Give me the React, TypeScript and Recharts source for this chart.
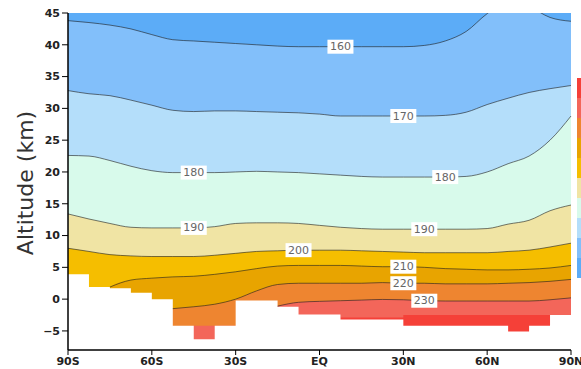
import React from "react";
import { ComposedChart, Area, Line, XAxis, YAxis, CartesianGrid } from "recharts";

// model latitude boxes (7.5 deg), south to north
const lats = [-90, -82.5, -75, -67.5, -60, -52.5, -45, -37.5, -30, -22.5, -15, -7.5, 0, 7.5, 15, 22.5, 30, 37.5, 45, 52.5, 60, 67.5, 75, 82.5, 90];

// altitude (km) of each temperature contour (K); null = under the ground
const k160 = [43.8, 43.5, 43.1, 42.5, 41.6, 40.8, 40.6, 40.4, 40.2, 40.0, 39.8, 39.7, 39.7, 39.7, 39.7, 39.7, 39.7, 39.9, 40.6, 42.1, 44.9, 46.8, 46.0, 44.3, 43.7];
const k170 = [32.8, 32.3, 32.0, 31.3, 30.5, 29.7, 29.5, 29.6, 29.6, 29.5, 29.4, 29.3, 29.1, 28.8, 28.8, 28.8, 28.8, 28.8, 28.9, 29.4, 30.6, 31.6, 32.5, 33.1, 33.6];
const k180 = [22.6, 22.5, 21.8, 20.9, 20.2, 19.9, 19.9, 19.9, 20.0, 20.1, 20.0, 19.9, 19.7, 19.5, 19.3, 19.2, 19.2, 19.2, 19.2, 19.3, 20.0, 21.3, 22.5, 25.0, 28.8];
const k190 = [13.4, 12.6, 11.9, 11.3, 11.2, 11.2, 11.2, 11.4, 11.9, 12.0, 12.0, 11.9, 11.6, 11.3, 11.1, 11.0, 11.0, 11.0, 11.0, 11.0, 11.1, 11.8, 12.4, 13.9, 14.8];
const k200 = [8.0, 7.5, 7.0, 6.8, 6.7, 6.7, 6.7, 6.9, 7.2, 7.5, 7.6, 7.7, 7.7, 7.7, 7.6, 7.5, 7.4, 7.3, 7.3, 7.3, 7.3, 7.5, 7.7, 8.2, 8.8];
const k210 = [null, null, 1.9, 3.0, 3.3, 3.5, 3.6, 3.9, 4.3, 4.8, 5.2, 5.3, 5.3, 5.3, 5.2, 5.1, 5.1, 5.0, 4.8, 4.7, 4.6, 4.6, 4.7, 4.9, 5.3];
const k220 = [null, null, null, null, null, -1.5, -1.2, -0.8, 0.0, 1.3, 2.3, 2.5, 2.5, 2.5, 2.5, 2.6, 2.5, 2.5, 2.4, 2.4, 2.4, 2.5, 2.6, 2.8, 3.1];
const k230 = [null, null, null, null, null, null, null, null, null, null, -1.1, -0.5, -0.35, -0.25, -0.15, -0.05, -0.1, -0.25, -0.3, -0.3, -0.3, -0.3, -0.3, -0.1, 0.2];

// warm bands next to the ground follow the model boxes
const salmonTop = [-8, -8, -8, -8, -8, -8, -4.2, -4.2, -4.2, -2.4, -1.1, -0.5, -0.35, -0.25, -0.15, -0.05, -0.1, -0.25, -0.3, -0.3, -0.3, -0.3, -0.3, -0.1, 0.2];
const redTop = [-8, -8, -8, -8, -8, -8, -8, -8, -8, -8, -8, -8, -8, -2.9, -2.9, -2.9, -2.5, -2.5, -2.5, -2.5, -2.5, -2.5, -2.5, -8, -8];
const ground = [3.9, 1.9, 1.7, 1.0, 0.0, -4.2, -6.3, -4.2, -0.2, -0.2, -1.2, -2.4, -2.4, -3.2, -3.2, -3.2, -4.2, -4.2, -4.2, -4.2, -4.2, -5.1, -4.2, -2.5, -2.5];

const latTicks = [-90, -60, -30, 0, 30, 60, 90];
const latTickLabels = ["90S", "60S", "30S", "EQ", "30N", "60N", "90N"];
const altTicks = [-5, 0, 5, 10, 15, 20, 25, 30, 35, 40, 45];

const contourLabels = [
  { level: 160, lat: 7.5 },
  { level: 170, lat: 30 },
  { level: 180, lat: -45 },
  { level: 180, lat: 45 },
  { level: 190, lat: -45 },
  { level: 190, lat: 37.5 },
  { level: 200, lat: -7.5 },
  { level: 210, lat: 30 },
  { level: 220, lat: 30 },
  { level: 230, lat: 37.5 },
];

const ALT_MIN = -8;
const ALT_MAX = 45;

const data = lats.map((lat, i) => ({
  lat,
  k160: k160[i],
  k170: k170[i],
  k180: k180[i],
  k190: k190[i],
  k200: k200[i],
  k210: k210[i],
  k220: k220[i],
  k230: k230[i],
  f210: k210[i] ?? ALT_MIN,
  f220: k220[i] ?? ALT_MIN,
  salmonTop: salmonTop[i],
  redTop: redTop[i],
  ground: ground[i],
}));

const colors = {
  below160: "#5CACF7",
  b160: "#82BFFA",
  b170: "#B4DEFA",
  b180: "#D8FAEB",
  b190: "#F0E4A4",
  b200: "#F5BE00",
  b210: "#E8A400",
  b220: "#EE8530",
  b230: "#F3665A",
  b240: "#F54038",
};

const fills: [string, string][] = [
  ["k160", colors.b160],
  ["k170", colors.b170],
  ["k180", colors.b180],
  ["k190", colors.b190],
  ["k200", colors.b200],
  ["f210", colors.b210],
  ["f220", colors.b220],
  ["salmonTop", colors.b230],
];

const lineKeys: [string, number][] = [
  ["k160", 160],
  ["k170", 170],
  ["k180", 180],
  ["k190", 190],
  ["k200", 200],
  ["k210", 210],
  ["k220", 220],
  ["k230", 230],
];

const labelDot = (level: number) => (props: any) => {
  const { cx, cy, payload, index } = props;
  const hit = contourLabels.some((l) => l.level === level && l.lat === payload?.lat);
  if (!hit || cx == null || cy == null) return <g key={`d${level}-${index}`} />;
  return (
    <g key={`d${level}-${index}`}>
      <rect x={cx - 13} y={cy - 7} width={26} height={14} fill="#fff" />
      <text
        x={cx}
        y={cy}
        textAnchor="middle"
        dominantBaseline="central"
        fontSize={11}
        fontFamily="DejaVu Sans"
        fill="#666"
      >
        {level}
      </text>
    </g>
  );
};

const tickFont = { fontSize: 11, fill: "#222", fontFamily: "DejaVu Sans", fontWeight: "bold" as const };

const barColors = [colors.b240, colors.b230, colors.b220, colors.b210, colors.b200, colors.b190, colors.b180, colors.b170, colors.b160, colors.below160];

export default function App() {
  return (
    <div style={{ position: "absolute", left: 0, top: 0, width: 581, height: 369, background: "#fff", overflow: "hidden" }}>
      <ComposedChart width={581} height={369} data={data} margin={{ top: 13, right: 10, bottom: 0, left: 0 }}>
        <CartesianGrid fill={colors.below160} horizontal={false} vertical={false} />
        <XAxis
          dataKey="lat"
          type="number"
          domain={[-90, 90]}
          ticks={latTicks}
          tickFormatter={(v: number) => latTickLabels[latTicks.indexOf(v)]}
          tickSize={5}
          tick={tickFont}
          height={19}
          axisLine={{ stroke: "#000", strokeWidth: 1.5 }}
          tickLine={{ stroke: "#000" }}
          interval={0}
        />
        <XAxis xAxisId="top" orientation="top" dataKey="lat" type="number" domain={[-90, 90]} height={0} tick={false} tickLine={false} axisLine={{ stroke: "#000", strokeWidth: 1.5 }} />
        <YAxis
          type="number"
          domain={[ALT_MIN, ALT_MAX]}
          allowDataOverflow
          ticks={altTicks}
          tickFormatter={(v: number) => (v < 0 ? `\u2212${Math.abs(v)}` : `${v}`)}
          tickSize={6}
          tick={tickFont}
          width={68}
          axisLine={{ stroke: "#000", strokeWidth: 1.5 }}
          tickLine={{ stroke: "#000" }}
          interval={0}
          label={{
            content: () => (
              <text
                x={33}
                y={183}
                transform="rotate(-90, 33, 183)"
                textAnchor="middle"
                fontSize={22}
                fontFamily="DejaVu Sans"
                fill="#333"
              >
                Altitude (km)
              </text>
            ),
          }}
        />
        <YAxis yAxisId="right" orientation="right" domain={[ALT_MIN, ALT_MAX]} width={0} tick={false} tickLine={false} axisLine={{ stroke: "#000", strokeWidth: 1.5 }} />
        {fills.map(([key, color]) => (
          <Area
            key={`fill-${key}`}
            dataKey={key}
            type="monotone"
            baseValue="dataMin"
            fill={color}
            fillOpacity={1}
            stroke="none"
            isAnimationActive={false}
          />
        ))}
        <Area dataKey="redTop" type="stepAfter" baseValue="dataMin" fill={colors.b240} fillOpacity={1} stroke="none" isAnimationActive={false} />
        <Area dataKey="ground" type="stepAfter" baseValue="dataMin" fill="#fff" fillOpacity={1} stroke="none" isAnimationActive={false} />
        {lineKeys.map(([key, level]) => (
          <Line
            key={`line-${key}`}
            dataKey={key}
            type="monotone"
            stroke="rgba(30,30,30,0.6)"
            strokeWidth={1}
            dot={labelDot(level)}
            activeDot={false}
            isAnimationActive={false}
          />
        ))}
      </ComposedChart>
      <div style={{ position: "absolute", left: 577, top: 78, width: 6, display: "flex", flexDirection: "column" }}>
        {barColors.map((c) => (
          <div key={c} style={{ height: 20, background: c }} />
        ))}
      </div>
    </div>
  );
}
